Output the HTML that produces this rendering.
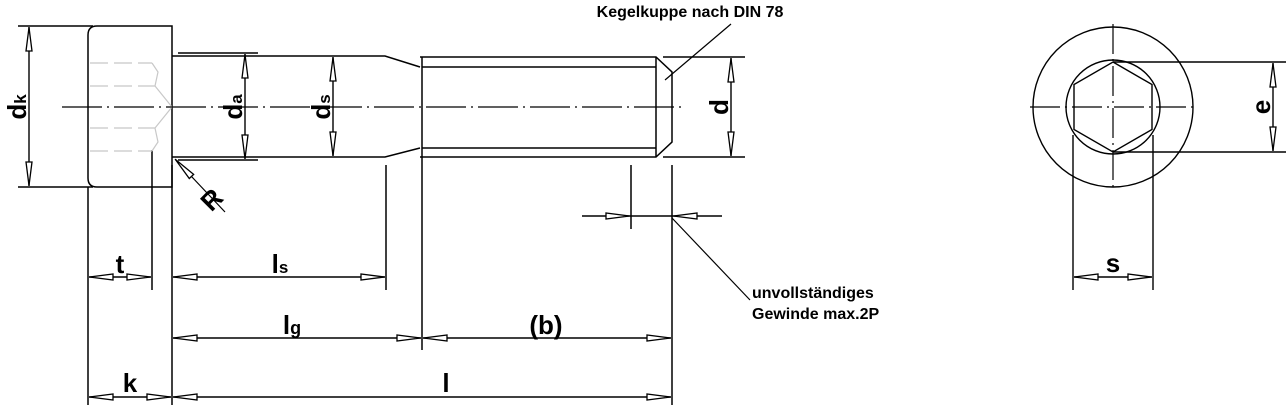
<!DOCTYPE html>
<html><head><meta charset="utf-8"><style>
html,body{margin:0;padding:0;background:#fff;}
svg{display:block;}
text{font-family:"Liberation Sans Narrow","Liberation Sans",sans-serif;font-weight:bold;fill:#000;}
</style></head><body>
<svg width="1286" height="410" viewBox="0 0 1286 410" xmlns="http://www.w3.org/2000/svg">
<defs>
<marker id="a" viewBox="0 0 25 8" refX="25" refY="4" markerWidth="25" markerHeight="8" markerUnits="userSpaceOnUse" orient="auto-start-reverse">
<polygon points="24.5,4 1,1 1,7" fill="#fff" stroke="#000" stroke-width="1.3"/>
</marker>
</defs>
<g stroke="#000" stroke-width="1.5" fill="none">
<path d="M97,26 H172 V187 H97 Q88,187 88,178 V35 Q88,26 97,26 Z"/>
<path d="M172,56 H385 L420,67"/>
<path d="M172,157 H385 L420,148"/>
<path d="M178,53 H258 M178,160 H258"/>
<path d="M420,57 H656 L672,72 V142 L656,157 H420"/>
<path d="M422,57 V157 M422,67 H656 M422,148 H656 M656,57 V157"/>
<path d="M663,57 H745 M663,157 H745"/>
<path d="M18,26 H93 M18,187 H93"/>
<path d="M665,80 L731,24" stroke-width="1.2"/>
<path d="M88,187 V405 M152,150 V290 M172,165 V405 M386,165 V290 M422,157 V350 M631,165 V229 M672,165 V405"/>
<path d="M175,159 L225,212" stroke-width="1.2" marker-start="url(#a)"/>
</g>
<g stroke="#c8c8c8" stroke-width="1.2" fill="none">
<path d="M90,63 H152 M90,86 H155 M90,128 H155 M90,151 H152" stroke-dasharray="18,6"/>
<path d="M152,63 L158,72 L155,86 L172,107 L155,128 L158,142 L152,151"/>
</g>
<path d="M62,107 H682" stroke="#000" stroke-width="1.2" stroke-dasharray="40,5,2,5"/>
<g stroke="#000" stroke-width="1.4" fill="none" marker-start="url(#a)" marker-end="url(#a)">
<path d="M29,27 V186"/>
<path d="M245,54 V159"/>
<path d="M333,57 V156"/>
<path d="M731,58 V156"/>
<path d="M1273,63 V151"/>
<path d="M1074,277 H1152"/>
<path d="M89,277 H151"/>
<path d="M173,277 H385"/>
<path d="M173,338 H421"/>
<path d="M423,338 H671"/>
<path d="M89,397 H171"/>
<path d="M173,397 H671"/>
</g>
<g stroke="#000" stroke-width="1.4" fill="none">
<path d="M630,216 H673"/>
<path d="M582,216 H630" marker-end="url(#a)"/>
<path d="M722,216 H673" marker-end="url(#a)"/>
<path d="M672,218 L750,300" stroke-width="1.2"/>
</g>
<g stroke="#000" stroke-width="1.4" fill="none">
<circle cx="1113" cy="107" r="80"/>
<circle cx="1113" cy="107" r="47"/>
<polygon points="1113,62 1152,84.5 1152,129.5 1113,152 1074,129.5 1074,84.5"/>
<path d="M1113,62 H1286 M1113,152 H1286"/>
<path d="M1073,135 V290 M1153,135 V290"/>
</g>
<path d="M1030,107 H1196 M1113,24 V190" stroke="#000" stroke-width="1.2" stroke-dasharray="30,5,2,5"/>
<text x="690" y="17" font-size="16" text-anchor="middle">Kegelkuppe nach DIN 78</text>
<text x="752" y="298" font-size="16">unvollständiges</text>
<text x="752" y="319" font-size="16">Gewinde max.2P</text>
<text font-size="26" transform="translate(26,107) rotate(-90)" text-anchor="middle">d<tspan font-size="17">k</tspan></text>
<text font-size="26" transform="translate(242,107) rotate(-90)" text-anchor="middle">d<tspan font-size="17">a</tspan></text>
<text font-size="26" transform="translate(330,107) rotate(-90)" text-anchor="middle">d<tspan font-size="17">s</tspan></text>
<text font-size="26" transform="translate(728,107) rotate(-90)" text-anchor="middle">d</text>
<text font-size="26" transform="translate(1270,107) rotate(-90)" text-anchor="middle">e</text>
<text font-size="26" transform="translate(218,206) rotate(-45)" text-anchor="middle">R</text>
<text x="120" y="273" font-size="26" text-anchor="middle">t</text>
<text x="280" y="273" font-size="26" text-anchor="middle">l<tspan font-size="17">s</tspan></text>
<text x="292" y="334" font-size="26" text-anchor="middle">l<tspan font-size="18">g</tspan></text>
<text x="546" y="334" font-size="26" text-anchor="middle">(b)</text>
<text x="130" y="392" font-size="26" text-anchor="middle">k</text>
<text x="446" y="392" font-size="26" text-anchor="middle">l</text>
<text x="1113" y="272" font-size="26" text-anchor="middle">s</text>
</svg>
</body></html>
